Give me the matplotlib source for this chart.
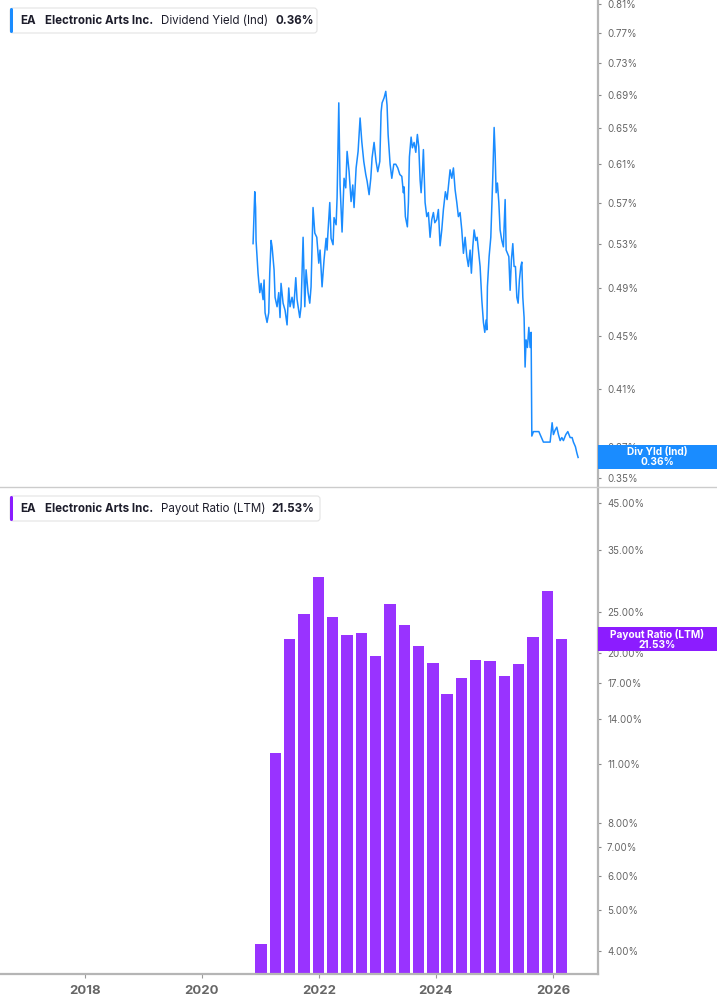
import matplotlib
matplotlib.use('Agg')
import matplotlib.pyplot as plt
from matplotlib.patches import Rectangle, FancyBboxPatch
from matplotlib.lines import Line2D
from matplotlib.transforms import IdentityTransform
from matplotlib.ticker import FixedLocator, FixedFormatter, NullLocator

plt.rcParams['font.family'] = ['Inter', 'DejaVu Sans']

# dividend yield (Ind), % (decimal years)
yield_dates = [
    2020.875, 2020.904, 2020.918, 2020.926, 2020.960, 2020.990, 2021.012, 2021.046, 2021.063, 2021.080,
    2021.114, 2021.143, 2021.160, 2021.183, 2021.200, 2021.234, 2021.251, 2021.285, 2021.314, 2021.336,
    2021.353, 2021.388, 2021.422, 2021.456, 2021.485, 2021.507, 2021.541, 2021.570, 2021.605, 2021.627,
    2021.673, 2021.695, 2021.730, 2021.759, 2021.781, 2021.815, 2021.844, 2021.866, 2021.900, 2021.930,
    2021.964, 2021.998, 2022.020, 2022.054, 2022.088, 2022.123, 2022.140, 2022.152, 2022.186, 2022.208,
    2022.242, 2022.259, 2022.294, 2022.311, 2022.340, 2022.362, 2022.396, 2022.430, 2022.459, 2022.482,
    2022.516, 2022.550, 2022.579, 2022.601, 2022.636, 2022.670, 2022.704, 2022.733, 2022.767, 2022.801,
    2022.824, 2022.858, 2022.887, 2022.909, 2022.943, 2022.977, 2023.006, 2023.041, 2023.063, 2023.080,
    2023.114, 2023.143, 2023.165, 2023.183, 2023.217, 2023.246, 2023.280, 2023.314, 2023.348, 2023.383,
    2023.417, 2023.444, 2023.456, 2023.478, 2023.512, 2023.530, 2023.547, 2023.576, 2023.598, 2023.627,
    2023.656, 2023.683, 2023.707, 2023.730, 2023.747, 2023.769, 2023.786, 2023.815, 2023.844, 2023.871,
    2023.900, 2023.929, 2023.957, 2023.981, 2024.015, 2024.042, 2024.071, 2024.100, 2024.128, 2024.162,
    2024.191, 2024.220, 2024.242, 2024.271, 2024.299, 2024.328, 2024.357, 2024.384, 2024.413, 2024.442,
    2024.470, 2024.499, 2024.528, 2024.555, 2024.584, 2024.606, 2024.630, 2024.653, 2024.681, 2024.704,
    2024.733, 2024.755, 2024.784, 2024.812, 2024.835, 2024.858, 2024.870, 2024.880, 2024.909, 2024.938,
    2024.972, 2024.995, 2025.012, 2025.029, 2025.051, 2025.075, 2025.097, 2025.126, 2025.153, 2025.183,
    2025.200, 2025.222, 2025.246, 2025.268, 2025.290, 2025.314, 2025.336, 2025.359, 2025.383, 2025.405,
    2025.427, 2025.451, 2025.468, 2025.485, 2025.507, 2025.524, 2025.541, 2025.564, 2025.588, 2025.610,
    2025.627, 2025.639, 2025.667, 2025.724, 2025.759, 2025.793, 2025.837, 2025.895, 2025.952, 2025.986,
    2026.008, 2026.037, 2026.066, 2026.094, 2026.123, 2026.152, 2026.179, 2026.220, 2026.254, 2026.294,
    2026.328, 2026.350, 2026.384, 2026.408, 2026.430,
]
yield_vals = [
    0.530, 0.581, 0.565, 0.533, 0.503, 0.486, 0.494, 0.480, 0.497, 0.469,
    0.461, 0.469, 0.503, 0.533, 0.527, 0.506, 0.482, 0.474, 0.486, 0.465,
    0.494, 0.477, 0.471, 0.459, 0.490, 0.474, 0.482, 0.473, 0.499, 0.480,
    0.465, 0.474, 0.536, 0.474, 0.506, 0.486, 0.477, 0.491, 0.565, 0.540,
    0.536, 0.512, 0.524, 0.491, 0.515, 0.535, 0.524, 0.538, 0.570, 0.535,
    0.529, 0.555, 0.548, 0.575, 0.680, 0.588, 0.541, 0.595, 0.585, 0.624,
    0.602, 0.571, 0.588, 0.565, 0.606, 0.624, 0.662, 0.635, 0.613, 0.599,
    0.592, 0.578, 0.595, 0.617, 0.634, 0.613, 0.602, 0.613, 0.669, 0.680,
    0.686, 0.694, 0.677, 0.643, 0.610, 0.595, 0.610, 0.610, 0.606, 0.599,
    0.597, 0.580, 0.586, 0.556, 0.546, 0.570, 0.618, 0.640, 0.628, 0.634,
    0.623, 0.643, 0.629, 0.593, 0.580, 0.601, 0.626, 0.570, 0.556, 0.560,
    0.536, 0.553, 0.560, 0.550, 0.553, 0.563, 0.528, 0.543, 0.563, 0.581,
    0.573, 0.590, 0.604, 0.595, 0.606, 0.583, 0.570, 0.556, 0.560, 0.543,
    0.521, 0.536, 0.518, 0.509, 0.524, 0.503, 0.527, 0.543, 0.533, 0.536,
    0.521, 0.509, 0.480, 0.461, 0.453, 0.463, 0.455, 0.491, 0.518, 0.536,
    0.597, 0.651, 0.622, 0.580, 0.590, 0.570, 0.543, 0.533, 0.527, 0.573,
    0.524, 0.521, 0.518, 0.488, 0.515, 0.530, 0.509, 0.509, 0.482, 0.477,
    0.497, 0.509, 0.513, 0.482, 0.465, 0.426, 0.447, 0.441, 0.457, 0.441,
    0.453, 0.377, 0.380, 0.380, 0.380, 0.377, 0.373, 0.373, 0.373, 0.386,
    0.378, 0.381, 0.383, 0.378, 0.374, 0.376, 0.374, 0.378, 0.380, 0.376,
    0.376, 0.373, 0.370, 0.366, 0.363,
]

# payout ratio (LTM), % -- one bar per quarter
payout_dates = [
    2021.01, 2021.26, 2021.50, 2021.745, 2021.99, 2022.235, 2022.48, 2022.725,
    2022.97, 2023.215, 2023.46, 2023.70, 2023.95, 2024.19, 2024.435, 2024.68,
    2024.925, 2025.17, 2025.415, 2025.66, 2025.905, 2026.15,
]
payout_vals = [
    4.15, 11.66, 21.6, 24.7, 30.2, 24.3, 22.0, 22.3,
    19.7, 26.1, 23.3, 20.8, 19.0, 16.0, 17.5, 19.3,
    19.2, 17.7, 18.9, 21.8, 27.9, 21.53,
]

yield_ticks = [0.35, 0.37, 0.41, 0.45, 0.49, 0.53, 0.57, 0.61, 0.65, 0.69, 0.73, 0.77, 0.81]
payout_ticks = [4, 5, 6, 7, 8, 11, 14, 17, 20, 25, 35, 45]
years = [2018, 2020, 2022, 2024, 2026]

ticker = 'EA'
company = 'Electronic Arts Inc.'
last_yield = 0.36
last_payout = 21.53

blue = '#1a8cff'
purple = '#9933ff'
badge_purple = '#8c1cff'
axis_grey = '#b5b5b5'
label_grey = '#666666'
text_dark = '#1d1d2b'

W, H = 717, 1005
fig = plt.figure(figsize=(W / 100, H / 100), dpi=100)

ax1 = fig.add_axes([0, 1 - 487 / H, 598 / W, 487 / H])
ax2 = fig.add_axes([0, 1 - 974 / H, 598 / W, (974 - 488) / H])

for ax in (ax1, ax2):
    ax.set_yscale('log')
    ax.set_xlim(2016.55, 2026.77)
    for s in ('left', 'top', 'bottom'):
        ax.spines[s].set_visible(False)
    ax.spines['right'].set_color(axis_grey)
    ax.spines['right'].set_linewidth(1.6)
    ax.yaxis.tick_right()
    ax.yaxis.set_minor_locator(NullLocator())
    ax.tick_params(axis='y', which='major', direction='out', length=2.5, width=0.8,
                   color='#888888', labelsize=7, labelcolor=label_grey, pad=4)
    ax.set_facecolor('none')

# top: dividend yield
ax1.plot(yield_dates, yield_vals, color=blue, lw=1.1)
ax1.set_ylim(0.3445, 0.8158)
ax1.yaxis.set_major_locator(FixedLocator(yield_ticks))
ax1.yaxis.set_major_formatter(FixedFormatter(['%.2f%%' % v for v in yield_ticks]))
ax1.set_xticks([])

# bottom: payout ratio bars (log axis, bars start from the axis floor)
ax2.bar(payout_dates, payout_vals, width=0.19, color=purple, linewidth=0, log=True)
ax2.set_ylim(3.53, 48.8)
ax2.yaxis.set_minor_locator(NullLocator())
ax2.yaxis.set_major_locator(FixedLocator(payout_ticks))
ax2.yaxis.set_major_formatter(FixedFormatter(['%.2f%%' % v for v in payout_ticks]))
ax2.spines['bottom'].set_visible(True)
ax2.spines['bottom'].set_color(axis_grey)
ax2.spines['bottom'].set_linewidth(1.6)
ax2.set_xticks(years)
ax2.set_xticklabels([str(y) for y in years])
ax2.tick_params(axis='x', direction='out', length=3, width=0.8, color='#999999',
                labelsize=9.5, labelcolor=label_grey, pad=5)
for t in ax2.get_xticklabels():
    t.set_fontweight('bold')

# panel separator
fig.add_artist(Line2D([0, 1], [1 - 487.5 / H, 1 - 487.5 / H], transform=fig.transFigure,
                      color='#cccccc', lw=1))

ident = IdentityTransform()


def badge(ax, value, label, color):
    yc = ax.transData.transform((2020, value))[1]
    fig.add_artist(Rectangle((598, yc - 12), W - 598, 24, transform=ident,
                             facecolor=color, edgecolor='none', zorder=5))
    fig.text(657, yc, label + '\n' + ('%.2f%%' % value), transform=ident,
             ha='center', va='center', color='white', fontsize=7.3, fontweight='bold',
             linespacing=1.0, zorder=6)


badge(ax1, 0.363, 'Div Yld (Ind)', blue)
badge(ax2, last_payout, 'Payout Ratio (LTM)', badge_purple)


def legend_box(top, right, color, metric, value, value_x):
    yb = H - top - 25
    fig.add_artist(FancyBboxPatch((10, yb), right - 10, 25, transform=ident,
                                  boxstyle='round,pad=0,rounding_size=3',
                                  facecolor='white', edgecolor='#e4e4e4', lw=0.8, zorder=5))
    fig.add_artist(FancyBboxPatch((10, yb), 3, 25, transform=ident,
                                  boxstyle='round,pad=0,rounding_size=1.5',
                                  facecolor=color, edgecolor='none', zorder=6))
    yc = yb + 12.5
    kw = dict(transform=ident, va='center', ha='left', fontsize=8.3, color=text_dark, zorder=7)
    fig.text(20, yc, ticker, fontweight='bold', **kw)
    fig.text(45, yc, company, fontweight='bold', **kw)
    fig.text(161, yc, metric, **kw)
    fig.text(value_x, yc, value, fontweight='bold', **kw)


legend_box(8, 317, blue, 'Dividend Yield (Ind)', '%.2f%%' % last_yield, 275)
legend_box(496, 320, '#8a1cff', 'Payout Ratio (LTM)', '%.2f%%' % last_payout, 271)

fig.savefig('out.png', dpi=100)
